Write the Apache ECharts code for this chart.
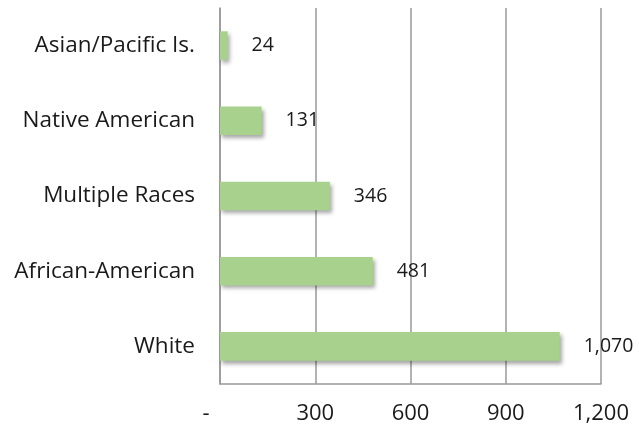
<!DOCTYPE html>
<html><head><meta charset="utf-8">
<script src="https://cdn.jsdelivr.net/npm/echarts@6/dist/echarts.min.js"></script>
<style>html,body{margin:0;padding:0;background:#fff}#c{width:639px;height:427px}</style>
</head><body><div id="c"></div>
<script>
var categories = ['White', 'African-American', 'Multiple Races', 'Native American', 'Asian/Pacific Is.'];
var values = [1070, 481, 346, 131, 24];
var tickLabels = {0: '-', 300: '300', 600: '600', 900: '900', 1200: '1,200'};
var fmt = function (v) { return v.toString().replace(/\B(?=(\d{3})+(?!\d))/g, ','); };
var chart = echarts.init(document.getElementById('c'));
var font = '"Open Sans", sans-serif';
chart.setOption({
  animation: false,
  grid: { left: 220, right: 38, top: 8, bottom: 43 },
  xAxis: {
    type: 'value', min: 0, max: 1200, interval: 300,
    axisLine: { show: true, lineStyle: { color: '#999', width: 1.5 } },
    axisTick: { show: false },
    splitLine: { show: true, lineStyle: { color: '#999', width: 1.5 } },
    axisLabel: { margin: 19, fontSize: 22, color: '#1a1a1a', fontFamily: font,
      rich: { dash: { fontSize: 22, color: '#1a1a1a', fontFamily: font, padding: [0, 28, 0, 0] } },
      formatter: function (v) { return v === 0 ? '{dash|' + tickLabels[v] + '}' : (tickLabels[v] !== undefined ? tickLabels[v] : v); } }
  },
  yAxis: {
    type: 'category', data: categories,
    axisLine: { show: true, lineStyle: { color: '#999', width: 1.5 } },
    axisTick: { show: false },
    axisLabel: { margin: 25, fontSize: 22.5, color: '#1a1a1a', fontFamily: font }
  },
  series: [{
    type: 'bar', data: values, barCategoryGap: '62%',
    itemStyle: { color: '#a8d18d', shadowColor: 'rgba(0,0,0,0.35)', shadowBlur: 4, shadowOffsetX: 2, shadowOffsetY: 3 },
    label: { show: true, position: 'right', distance: 24, fontSize: 19.5, color: '#1a1a1a', fontFamily: font,
      formatter: function (p) { return fmt(p.value); } }
  }]
});
</script></body></html>
